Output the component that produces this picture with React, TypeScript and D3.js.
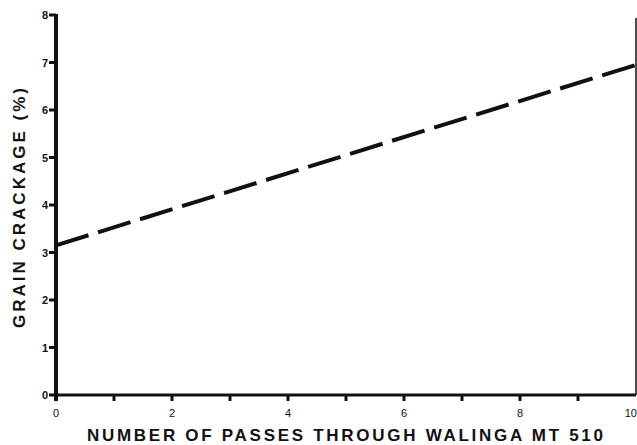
import { useEffect, useRef } from 'react'
import * as d3 from 'd3'

// Fitted line: crackage (%) vs number of passes
const passes = [0, 10]
const crackage = [3.15, 6.95]

const xMajorTicks = [0, 2, 4, 6, 8, 10]
const xMinorTicks = [1, 3, 5, 7, 9]
const yTicks = [0, 1, 2, 3, 4, 5, 6, 7, 8]

const W = 637
const H = 445

export default function App() {
  const svgRef = useRef<SVGSVGElement>(null)

  useEffect(() => {
    if (!svgRef.current) return
    const svg = d3.select(svgRef.current)
    svg.selectAll('*').remove()

    const x = d3.scaleLinear().domain([0, 10]).range([56, 636])
    const y = d3.scaleLinear().domain([0, 8]).range([395, 15])
    const font = "'Liberation Sans', Arial, sans-serif"

    svg.append('rect').attr('width', W).attr('height', H).attr('fill', '#fff')

    // right frame line
    svg.append('line')
      .attr('x1', x(10)).attr('x2', x(10))
      .attr('y1', 18).attr('y2', y(0))
      .attr('stroke', '#111').attr('stroke-width', 1.5)

    // x axis
    svg.append('line')
      .attr('x1', x(0)).attr('x2', x(10))
      .attr('y1', y(0)).attr('y2', y(0))
      .attr('stroke', '#111').attr('stroke-width', 3)

    // y axis
    svg.append('line')
      .attr('x1', x(0)).attr('x2', x(0))
      .attr('y1', y(8) - 1).attr('y2', y(0) + 2)
      .attr('stroke', '#111').attr('stroke-width', 4)

    // x ticks
    svg.selectAll('.xtick')
      .data([...xMajorTicks.slice(1, -1), ...xMinorTicks])
      .enter()
      .append('line')
      .attr('x1', d => x(d)).attr('x2', d => x(d))
      .attr('y1', y(0)).attr('y2', y(0) + 6)
      .attr('stroke', '#111').attr('stroke-width', 3)
    svg.append('line')
      .attr('x1', x(0)).attr('x2', x(0))
      .attr('y1', y(0)).attr('y2', y(0) + 6)
      .attr('stroke', '#111').attr('stroke-width', 4)

    svg.selectAll('.xlabel')
      .data(xMajorTicks)
      .enter()
      .append('text')
      .attr('x', d => (d === 10 ? W : x(d)))
      .attr('y', y(0) + 22)
      .attr('text-anchor', d => (d === 10 ? 'end' : 'middle'))
      .attr('font-family', font)
      .attr('font-size', 11)
      .attr('fill', '#111')
      .text(d => String(d))

    // y ticks
    svg.selectAll('.ytick')
      .data(yTicks)
      .enter()
      .append('line')
      .attr('x1', x(0) - 7).attr('x2', x(0))
      .attr('y1', d => y(d)).attr('y2', d => y(d))
      .attr('stroke', '#111').attr('stroke-width', 3)

    svg.selectAll('.ylabel')
      .data(yTicks)
      .enter()
      .append('text')
      .attr('x', x(0) - 8)
      .attr('y', d => y(d) + 4)
      .attr('text-anchor', 'end')
      .attr('font-family', font)
      .attr('font-weight', 'bold')
      .attr('font-size', 11)
      .attr('fill', '#111')
      .text(d => String(d))

    // fitted dashed line
    const line = d3.line<number>()
      .x((_, i) => x(passes[i]))
      .y(d => y(d))
    svg.append('path')
      .attr('d', line(crackage))
      .attr('fill', 'none')
      .attr('stroke', '#111')
      .attr('stroke-width', 4)
      .attr('stroke-dasharray', '34 10')

    // axis titles
    svg.append('text')
      .attr('x', 87)
      .attr('y', 441)
      .attr('textLength', 516)
      .attr('lengthAdjust', 'spacing')
      .attr('font-family', font)
      .attr('font-weight', 'bold')
      .attr('font-size', 17)
      .attr('fill', '#111')
      .text('NUMBER OF PASSES THROUGH WALINGA MT 510')

    svg.append('text')
      .attr('transform', 'translate(25,328) rotate(-90)')
      .attr('textLength', 240)
      .attr('lengthAdjust', 'spacing')
      .attr('font-family', font)
      .attr('font-weight', 'bold')
      .attr('font-size', 17)
      .attr('fill', '#111')
      .text('GRAIN CRACKAGE (%)')
  }, [])

  return (
    <svg
      ref={svgRef}
      width={W}
      height={H}
      style={{ position: 'absolute', left: 0, top: 0, display: 'block' }}
    />
  )
}
